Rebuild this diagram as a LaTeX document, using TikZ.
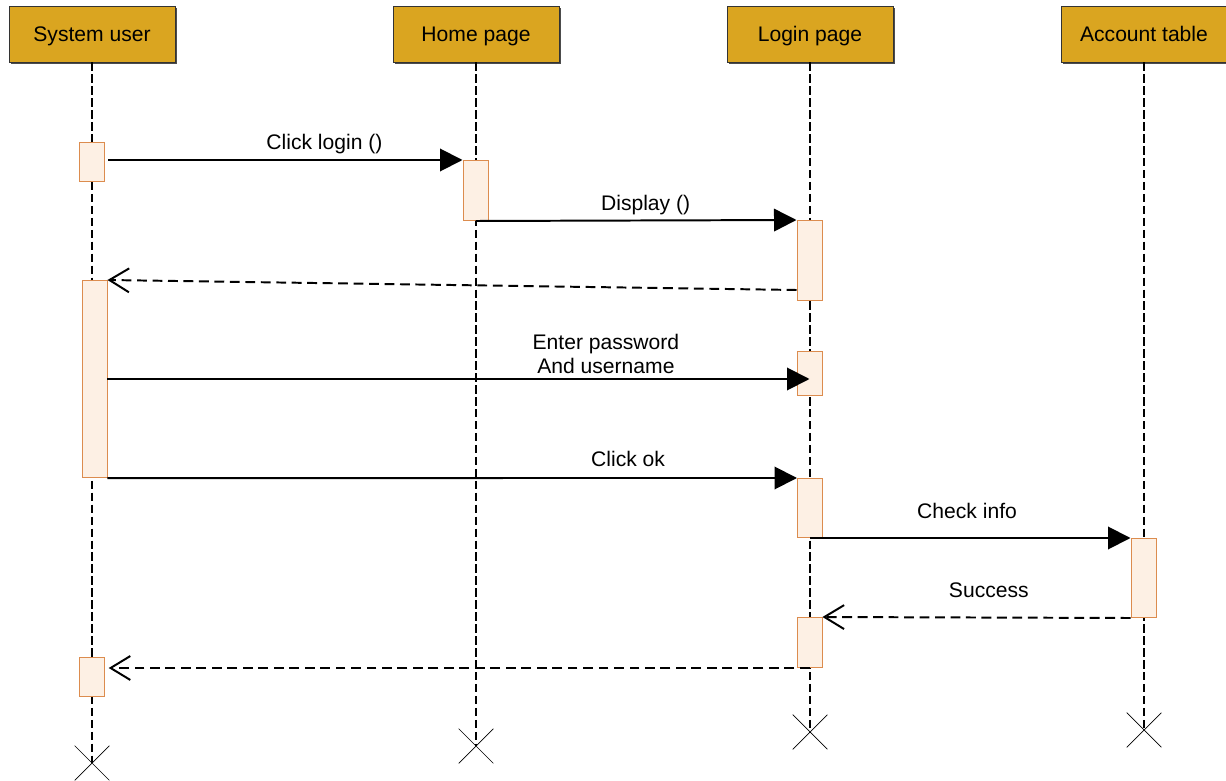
\documentclass[tikz,border=0pt]{standalone}
\usepackage{fontspec}
\setmainfont{Liberation Sans}
\usetikzlibrary{positioning, arrows.meta, shapes.misc, shadows}
\definecolor{HeadGold}{HTML}{DAA520}
\definecolor{ActFill}{HTML}{FDF0E4}
\definecolor{ActEdge}{HTML}{DC8C4E}

\begin{document}
\begin{tikzpicture}[x=0.025cm, y=-0.025cm,
    font=\fontsize{15}{17}\selectfont,
    head/.style={draw=black!80, fill=HeadGold, line width=0.6pt, minimum width=4.15cm, minimum height=1.4cm,
      text depth=0pt, drop shadow={shadow xshift=1.4pt, shadow yshift=-1.4pt, fill=black!70, opacity=1}},
    life/.style={line width=2pt, dash pattern=on 6pt off 2.5pt},
    act/.style={draw=ActEdge, fill=ActFill, line width=0.7pt, minimum width=0.625cm, anchor=north, inner sep=0pt},
    call/.style={line width=1.4pt, -{Triangle[length=16pt, width=16pt]}},
    reply/.style={line width=1.4pt, dash pattern=on 7pt off 4pt, -{Straight Barb[length=14pt, width=17pt]}},
    kill/.style={cross out, draw, line width=0.5pt, minimum size=0.85cm, inner sep=0pt}]

  \useasboundingbox (0,0) rectangle (1226,781);

  % objects
  \node[head] (user)  at (92,34)   {System user};
  \node[head] (home)  at (476,34)  {Home page};
  \node[head] (login) at (810,34)  {Login page};
  \node[head] (acct)  at (1144,34) {Account table};

  % lifelines
  \node[kill] (userX)  at (92,763)   {};
  \node[kill] (homeX)  at (476,746)  {};
  \node[kill] (loginX) at (810,732)  {};
  \node[kill] (acctX)  at (1144,730) {};
  \draw[life] (user)  -- (userX.center);
  \draw[life] (home)  -- (homeX.center);
  \draw[life] (login) -- (loginX.center);
  \draw[life] (acct)  -- (acctX.center);

  % activations
  \node[act, minimum height=0.975cm] (u1) at (91.5,142)   {};
  \node[act, minimum height=1.5cm]   (h1) at (475.5,160)  {};
  \node[act, minimum height=2cm]     (l1) at (809.5,220)  {};
  \node[act, minimum height=4.925cm] (u2) at (94.5,280)   {};
  \node[act, minimum height=1.1cm]   (l2) at (809.5,351)  {};
  \node[act, minimum height=1.475cm] (l3) at (810,478)    {};
  \node[act, minimum height=1.975cm] (a1) at (1143.5,538) {};
  \node[act, minimum height=1.25cm]  (l4) at (809.5,617)  {};
  \node[act, minimum height=0.975cm] (u3) at (91.5,657)   {};

  % messages
  \draw[call] (u1.east |- h1.north) ++(4,0) -- node[above, pos=0.61] {Click login ()} (h1.north west);
  \draw[call] (h1.south) -- node[above, pos=0.53] {Display ()} (l1.north west);
  \draw[reply] (l1.south west) ++(0,-11) -- (u2.north east);
  \draw[call] (u2.east |- 0,379) -- node[above, pos=0.71, align=center] {Enter password\\And username} (l2.center |- 0,379);
  \draw[call] (u2.south east) -- node[above=4pt, pos=0.755] {Click ok} (l3.north west);
  \draw[call] (l3.south) -- node[above=10pt, pos=0.49] {Check info} (a1.north west);
  \draw[reply] (a1.south west) -- node[above=10pt, pos=0.46] {Success} (l4.north east);
  \draw[reply] (l4.south) -- ([xshift=3pt]u3.east |- l4.south);
\end{tikzpicture}
\end{document}
